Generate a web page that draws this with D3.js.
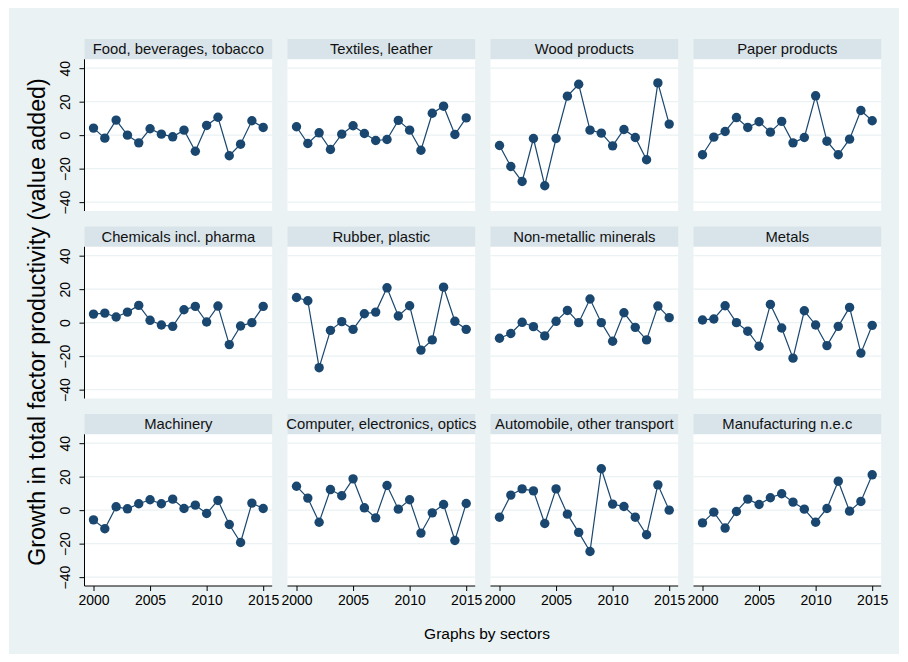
<!DOCTYPE html>
<html>
<head>
<meta charset="utf-8">
<script src="https://cdn.jsdelivr.net/npm/d3@7"></script>
<style>
  html, body { margin: 0; padding: 0; background: #ffffff; }
  svg { display: block; font-family: "Liberation Sans", Arial, sans-serif; }
</style>
</head>
<body>
<svg id="chart" width="908" height="662"></svg>
<script>
// Annual growth in TFP (value added), per manufacturing sector, 2000-2015
const years = d3.range(2000, 2016);
const sectors = [
  "Food, beverages, tobacco", "Textiles, leather", "Wood products", "Paper products",
  "Chemicals incl. pharma", "Rubber, plastic", "Non-metallic minerals", "Metals",
  "Machinery", "Computer, electronics, optics", "Automobile, other transport", "Manufacturing n.e.c"
];
const food      = [4.2, -1.8, 9.0, 0.0, -4.6, 3.8, 0.6, -1.0, 3.0, -9.6, 5.8, 10.7, -12.3, -5.4, 8.6, 4.6];
const textiles  = [5.0, -5.0, 1.4, -8.6, 0.6, 5.6, 1.0, -3.2, -2.6, 8.8, 3.0, -9.0, 13.1, 17.3, 0.4, 10.3];
const wood      = [-6.2, -18.7, -27.7, -2.0, -30.2, -2.0, 23.3, 30.4, 3.0, 1.2, -6.4, 3.4, -1.4, -14.7, 31.2, 6.6];
const paper     = [-11.7, -1.2, 2.2, 10.5, 4.6, 8.0, 1.8, 8.2, -4.6, -1.4, 23.5, -3.6, -11.7, -2.4, 14.7, 8.6];
const chemicals = [5.1, 5.7, 3.4, 6.3, 10.3, 1.4, -1.4, -2.2, 7.7, 9.7, 0.4, 9.9, -13.1, -2.0, 0.0, 9.7];
const rubber    = [15.0, 13.1, -26.9, -4.6, 0.6, -4.0, 5.3, 6.3, 20.8, 4.0, 10.1, -16.4, -10.3, 21.2, 0.8, -4.0];
const minerals  = [-9.3, -6.5, 0.2, -2.4, -7.9, 0.8, 7.3, 0.0, 14.1, 0.0, -11.1, 5.9, -2.8, -10.3, 9.9, 3.0];
const metals    = [1.6, 2.2, 10.1, 0.0, -5.1, -14.1, 10.9, -3.2, -21.2, 7.1, -1.4, -13.7, -2.2, 9.1, -18.2, -1.6];
const machinery = [-5.8, -11.1, 2.0, 0.8, 3.8, 6.2, 3.8, 6.6, 1.0, 3.0, -2.0, 5.8, -8.6, -19.3, 4.2, 1.0];
const computer  = [14.3, 7.2, -7.2, 12.3, 8.6, 18.7, 1.4, -4.6, 14.7, 0.6, 6.2, -13.7, -1.6, 3.4, -18.1, 4.0];
const transport = [-4.2, 9.0, 12.7, 11.5, -8.0, 12.7, -2.4, -13.3, -24.7, 24.7, 3.6, 2.2, -4.2, -14.7, 15.1, 0.0];
const nec       = [-7.6, -1.2, -10.7, -0.8, 6.6, 3.4, 7.4, 9.8, 4.8, 0.6, -7.2, 1.0, 17.3, -0.6, 5.2, 21.1];
const seriesList = [food, textiles, wood, paper, chemicals, rubber, minerals, metals, machinery, computer, transport, nec];

const yTicks = [-40, -20, 0, 20, 40];
const xTicks = [2000, 2005, 2010, 2015];
const yTitle = "Growth in total factor productivity (value added)";
const noteText = "Graphs by sectors";

// layout
const W = 908, H = 662;
const cols = 4;
const panelX0 = 84.5, panelStepX = 203, panelW = 187.7;
const panelY0 = 39, panelStepY = 187.5, stripH = 20.3, plotH = 151.7;

const bg = "#eaf2f3", stripFill = "#d9e4ea", gridCol = "#eaf2f3", navy = "#1a476f";

const svg = d3.select("#chart");

// graph region
svg.append("rect").attr("x", 9).attr("y", 8).attr("width", W - 18).attr("height", H - 16)
  .attr("fill", bg);

const x = d3.scaleLinear().domain([2000, 2015]).range([9, panelW - 9]);
const y = d3.scaleLinear().domain([-45.3, 45.3]).range([plotH, 0]);

const line = d3.line().x((d, i) => x(years[i])).y(d => y(d));

sectors.forEach((name, k) => {
  const c = k % cols, r = Math.floor(k / cols);
  const gx = panelX0 + c * panelStepX;
  const gy = panelY0 + r * panelStepY;
  const g = svg.append("g").attr("transform", `translate(${gx},${gy})`);

  // strip with sector name
  g.append("rect").attr("width", panelW).attr("height", stripH).attr("fill", stripFill);
  g.append("text").attr("x", panelW / 2).attr("y", stripH / 2 + 5.2)
    .attr("text-anchor", "middle").attr("font-size", 14.8).attr("fill", "#111")
    .text(name);

  const p = g.append("g").attr("transform", `translate(0,${stripH})`);
  p.append("rect").attr("width", panelW).attr("height", plotH).attr("fill", "#ffffff");

  // horizontal grid
  p.selectAll("line.grid").data(yTicks).join("line").attr("class", "grid")
    .attr("x1", 0).attr("x2", panelW)
    .attr("y1", d => y(d)).attr("y2", d => y(d))
    .attr("stroke", gridCol).attr("stroke-width", 1.4);

  // left axis on the first column
  if (c === 0) {
    const ax = p.append("g").call(d3.axisLeft(y).tickValues(yTicks).tickSize(5).tickPadding(5));
    ax.select(".domain").attr("d", `M0,0V${plotH}`).attr("stroke", "#000");
    ax.selectAll(".tick line").attr("stroke", "#000");
    ax.selectAll(".tick text")
      .attr("font-size", 14).attr("font-family", "Liberation Sans, Arial, sans-serif")
      .attr("fill", "#000")
      .attr("transform", "rotate(-90)")
      .attr("x", 0).attr("y", -15).attr("dy", 0)
      .attr("text-anchor", "middle");
  }

  // bottom axis on the last row
  if (r === 2) {
    const ax = p.append("g").attr("transform", `translate(0,${plotH})`)
      .call(d3.axisBottom(x).tickValues(xTicks).tickFormat(d3.format("d")).tickSize(5).tickPadding(4));
    ax.select(".domain").attr("d", `M0,0H${panelW}`).attr("stroke", "#000");
    ax.selectAll(".tick line").attr("stroke", "#000");
    ax.selectAll(".tick text").attr("font-size", 14)
      .attr("font-family", "Liberation Sans, Arial, sans-serif").attr("fill", "#000");
  }

  const vals = seriesList[k];
  p.append("path").datum(vals).attr("d", line)
    .attr("fill", "none").attr("stroke", navy).attr("stroke-width", 1.2);
  p.selectAll("circle").data(vals).join("circle")
    .attr("cx", (d, i) => x(years[i])).attr("cy", d => y(d)).attr("r", 4.7)
    .attr("fill", navy);
});

// y-axis title, sized to span from the bottom row to the top row
const yTitleTop = 78, yTitleBottom = 566;
const yt = svg.append("text")
  .attr("text-anchor", "middle").attr("font-size", 21).attr("fill", "#000")
  .text(yTitle);
const len = yt.node().getComputedTextLength();
yt.attr("font-size", 21 * (yTitleBottom - yTitleTop) / len)
  .attr("transform", `translate(45,${(yTitleTop + yTitleBottom) / 2}) rotate(-90)`);

svg.append("text").attr("x", 487).attr("y", 639)
  .attr("text-anchor", "middle").attr("font-size", 15.5).attr("fill", "#000")
  .text(noteText);
</script>
</body>
</html>
